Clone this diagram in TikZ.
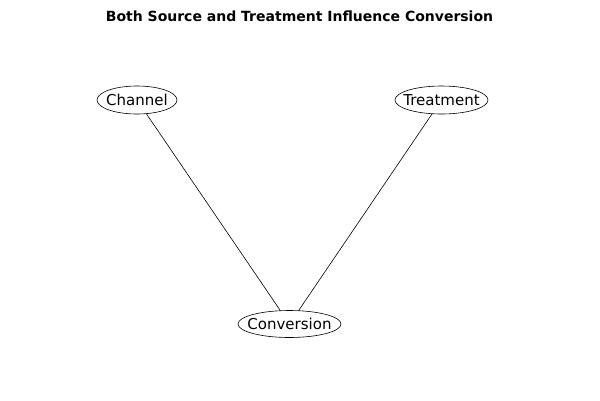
\documentclass[tikz,border=0pt]{standalone}
\usepackage{fontspec}
\setmainfont{DejaVu Sans}
\usetikzlibrary{shapes.geometric}
\begin{document}
\begin{tikzpicture}[x=1pt,y=-1pt,
  var/.style={ellipse,draw,line width=0.6pt,inner sep=0pt,minimum height=28pt,font=\fontsize{15}{18}\selectfont},
  link/.style={draw,line width=0.6pt}]
\useasboundingbox (0,0) rectangle (600,400);
\node[font=\bfseries\fontsize{14}{16}\selectfont] (title) at (299.5,16) {Both Source and Treatment Influence Conversion};
\node[var,minimum width=80pt] (ch) at (137,100) {\makebox[0pt]{Channel}};
\node[var,minimum width=93pt] (tr) at (441.5,100) {\makebox[0pt]{Treatment}};
\node[var,minimum width=103pt,minimum height=27pt] (cv) at (289.5,324) {\makebox[0pt]{Conversion}};
\draw[link] (ch) -- (cv);
\draw[link] (tr) -- (cv);
\end{tikzpicture}
\end{document}
